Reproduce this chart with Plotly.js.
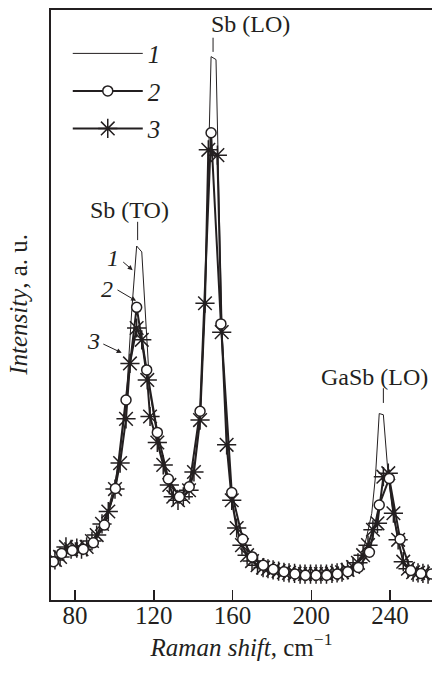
<!DOCTYPE html>
<html>
<head>
<meta charset="utf-8">
<script src="https://cdn.plot.ly/plotly-3.0.1.min.js"></script>
<style>html,body{margin:0;padding:0;background:#fff;}#chart{width:432px;height:675px;}</style>
</head>
<body>
<div id="chart"></div>
<script>
// Raman shift (cm^-1) and intensity (a.u., 0..100 scale)
const shift1 = [69.8,72.4,75.4,78.0,80.9,83.3,85.9,88.6,91.0,93.7,96.9,100.3,102.9,105.9,108.8,111.3,113.9,116.7,118.1,121.8,124.8,127.9,129.9,132.3,135.0,137.9,140.4,143.5,146.0,149.1,151.6,154.5,157.0,159.6,162.1,164.8,167.4,169.9,172.7,175.5,178.0,180.6,183.4,186.1,188.7,191.5,194.3,196.8,199.6,202.4,204.9,207.7,210.5,213.1,215.6,218.4,221.2,223.7,226.4,228.1,230.7,232.6,234.5,236.6,239.1,241.7,244.1,246.7,249.1,251.7,254.2,256.7,259.3];
const int1 = [6.8,7.5,8.6,8.6,8.7,8.7,9.0,9.8,11.0,12.8,15.5,20.0,25.0,33.5,49.0,60.0,59.0,42.5,35.0,27.5,23.0,19.5,17.8,17.0,17.5,19.0,22.0,31.0,50.0,92.1,91.6,47.0,27.0,17.5,12.5,9.3,7.6,6.6,5.9,5.5,5.3,5.1,4.9,4.7,4.6,4.5,4.4,4.4,4.4,4.4,4.4,4.4,4.5,4.6,4.7,5.1,5.6,6.5,8.5,10.7,14.7,21.0,31.6,31.4,20.9,14.5,10.0,6.5,5.3,4.7,4.6,4.5,4.4];

const shift2 = [69.0,73.2,78.6,84.2,89.3,94.9,100.5,105.9,111.3,116.4,121.8,127.4,133.0,138.0,143.5,149.1,154.1,159.6,165.2,170.0,175.6,180.7,186.1,191.7,197.0,202.4,207.8,213.2,218.5,223.9,229.5,234.5,239.6,245.1,250.5,255.7,261.0];
const int2 = [6.5,7.9,8.4,8.6,9.7,12.7,18.9,33.9,49.6,39.0,28.4,20.5,17.5,19.2,32.0,79.2,46.8,18.2,10.3,7.3,5.9,5.2,4.8,4.4,4.2,4.2,4.2,4.4,4.8,5.5,8.1,16.1,20.6,10.3,5.0,4.5,4.4];

const shift3 = [69.8,72.4,75.4,78.0,80.9,83.3,85.9,88.6,91.0,93.7,96.9,100.3,102.9,105.9,107.9,111.3,113.9,116.7,118.1,121.8,124.8,127.9,129.9,132.3,135.0,137.9,140.4,143.5,146.0,147.7,152.3,154.5,157.0,159.6,162.1,164.8,167.4,169.9,172.7,175.5,178.0,180.6,183.4,186.1,188.7,191.5,194.3,196.8,199.6,202.4,204.9,207.7,210.5,213.1,215.6,218.4,221.2,223.7,226.3,228.8,231.3,233.6,236.6,239.1,241.7,244.1,246.7,249.1,251.7,254.2,256.7,259.3];
const int3 = [6.8,7.3,9.0,8.6,8.8,8.6,9.0,10.0,11.0,12.9,15.0,18.8,23.2,30.7,40.1,46.1,44.1,37.3,31.1,26.7,22.9,19.5,17.5,16.9,17.5,18.6,21.7,30.5,50.3,76.3,75.4,45.4,26.3,16.9,12.2,9.3,7.6,6.6,5.9,5.5,5.3,5.1,4.9,4.7,4.6,4.5,4.4,4.4,4.4,4.4,4.4,4.4,4.5,4.6,4.7,5.1,5.6,6.3,7.6,9.3,11.9,13.0,20.9,21.5,14.7,10.2,6.5,5.3,4.7,4.6,4.5,4.4];

const seriesNames = ['<i>1</i>','<i>2</i>','<i>3</i>'];
const xTicks = [80,120,160,200,240];
const yTitle = '<i>Intensity</i>, a. u.';
const xTitle = '<i>Raman shift</i>, cm<sup>\u22121</sup>';

// peak labels: text, text position, tick position
const peakLabels = ['Sb (TO)','Sb (LO)','GaSb (LO)'];
const peakTextX = [107.9,168.9,260.3];
const peakTextY = [66.1,97.6,37.8];
const peakAnchor = ['center','center','right'];
const peakTickX = [111.8,150.1,236.6];
const peakTickY0 = [61.0,92.9,33.4];
const peakTickY1 = [64.1,95.3,35.9];

// curve pointers: label, label pos, arrow tail, arrow tip
const ptrLabels = ['1','2','3'];
const ptrTextX = [99.4,96.0,89.6];
const ptrTextY = [58.0,52.7,43.9];
const ptrTailX = [103.7,100.8,93.6];
const ptrTailY = [57.5,52.7,43.5];
const ptrTipX = [109.3,111.0,103.7];
const ptrTipY = [55.9,50.7,41.9];

const ink = '#231f20';
const FONT = 'Liberation Serif, Times New Roman, serif';

const traces = [
  {x: shift3, y: int3, name: seriesNames[2], legendrank: 3, legendgroup: 'c', mode: 'lines+markers',
   line: {color: ink, width: 2},
   marker: {symbol: 'asterisk-open', size: 16, color: ink, line: {color: ink, width: 1.5}}},
  {x: shift1, y: int1, name: seriesNames[0], legendrank: 1, legendgroup: 'a', mode: 'lines',
   line: {color: ink, width: 1}},
  {x: shift2, y: int2, name: seriesNames[1], legendrank: 2, legendgroup: 'b', mode: 'lines+markers',
   line: {color: ink, width: 2},
   marker: {symbol: 'circle', size: 10, color: '#ffffff', line: {color: ink, width: 1.5}}}
];

const annotations = [];
const shapes = [];
for (let i = 0; i < peakLabels.length; i++) {
  annotations.push({x: peakTextX[i], y: peakTextY[i], xref: 'x', yref: 'y', text: peakLabels[i],
    showarrow: false, xanchor: peakAnchor[i], yanchor: 'middle', font: {family: FONT, size: 24, color: ink}});
  shapes.push({type: 'line', xref: 'x', yref: 'y', x0: peakTickX[i], x1: peakTickX[i],
    y0: peakTickY0[i], y1: peakTickY1[i], line: {color: ink, width: 1}});
}
for (let i = 0; i < ptrLabels.length; i++) {
  annotations.push({x: ptrTextX[i], y: ptrTextY[i], xref: 'x', yref: 'y', text: '<i>' + ptrLabels[i] + '</i>',
    showarrow: false, xanchor: 'center', yanchor: 'middle', font: {family: FONT, size: 24, color: ink}});
  annotations.push({x: ptrTipX[i], y: ptrTipY[i], xref: 'x', yref: 'y', axref: 'x', ayref: 'y',
    ax: ptrTailX[i], ay: ptrTailY[i], text: '', showarrow: true, arrowhead: 2, arrowsize: 1,
    arrowwidth: 1, arrowcolor: ink, standoff: 0, startstandoff: 0});
}
// y-axis title placed as a rotated annotation to the left of the axis
annotations.push({xref: 'paper', yref: 'paper', x: -0.087, y: 0.5, text: yTitle, textangle: -90,
  showarrow: false, xanchor: 'center', yanchor: 'middle', font: {family: FONT, size: 25, color: ink}});

const layout = {
  width: 432, height: 675,
  margin: {l: 51, r: 0, t: 10, b: 75},
  paper_bgcolor: '#fff', plot_bgcolor: '#fff',
  font: {family: FONT, size: 25, color: ink},
  showlegend: true,
  legend: {x: 0.044, y: 0.965, xanchor: 'left', yanchor: 'top', bgcolor: 'rgba(0,0,0,0)',
    itemwidth: 70, tracegroupgap: 2, traceorder: 'grouped', font: {family: FONT, size: 25, color: ink}},
  xaxis: {range: [67.8, 261.3], tickvals: xTicks, ticktext: xTicks.map(String), ticks: 'inside', ticklen: 10,
    tickwidth: 1.5, tickcolor: ink, showline: true, linecolor: ink, linewidth: 2, mirror: true,
    ticklabelstandoff: -8,
    showgrid: false, zeroline: false, tickfont: {family: FONT, size: 25, color: ink},
    title: {text: xTitle, font: {family: FONT, size: 25, color: ink}, standoff: 6}},
  yaxis: {range: [0, 100], showticklabels: false, ticks: '', showline: true, linecolor: ink, linewidth: 2,
    showgrid: false, zeroline: false},
  annotations: annotations,
  shapes: shapes
};

Plotly.newPlot('chart', traces, layout, {staticPlot: true, displayModeBar: false});
</script>
</body>
</html>
